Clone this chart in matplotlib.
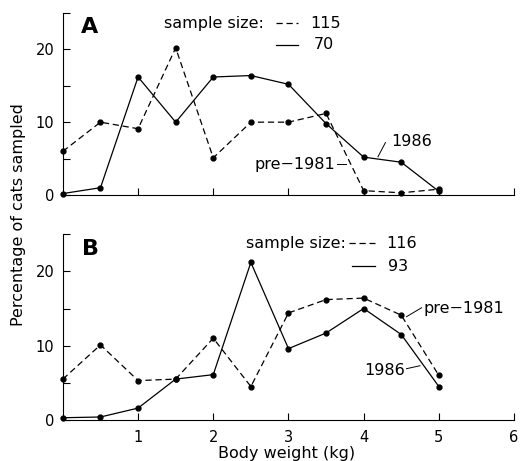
import matplotlib
matplotlib.use("Agg")
import matplotlib.pyplot as plt

plt.rcParams["font.family"] = ["DejaVu Sans"]

weights = [0, 0.5, 1, 1.5, 2, 2.5, 3, 3.5, 4, 4.5, 5]

# panel A
a_pre1981 = [6.0, 10.0, 9.1, 20.2, 5.1, 10.0, 10.0, 11.2, 0.6, 0.3, 0.8]
a_1986 = [0.2, 1.0, 16.2, 10.0, 16.2, 16.4, 15.2, 9.8, 5.2, 4.5, 0.5]
a_sizes = ["115", "70"]

# panel B
b_pre1981 = [5.5, 10.1, 5.3, 5.5, 11.0, 4.5, 14.4, 16.2, 16.4, 14.1, 6.0]
b_1986 = [0.3, 0.4, 1.6, 5.5, 6.1, 21.2, 9.6, 11.7, 15.0, 11.5, 4.5]
b_sizes = ["116", "93"]

x_ticks = [1, 2, 3, 4, 5, 6]

fs = 10.5
fs_label = 11.5

fig = plt.figure(figsize=(5.24, 4.61), dpi=100)
ax_a = fig.add_axes([0.120, 0.577, 0.861, 0.395])
ax_b = fig.add_axes([0.120, 0.089, 0.861, 0.403])

dash = (0, (5, 3))


def style(ax):
    ax.set_xlim(0, 6)
    ax.set_ylim(0, 25)
    ax.spines["top"].set_visible(False)
    ax.spines["right"].set_visible(False)
    ax.set_xticks(x_ticks)
    ax.set_yticks([0, 10, 20])
    ax.set_yticks([5, 15, 25], minor=True)
    ax.tick_params(axis="both", which="both", direction="in", length=5, width=0.8, labelsize=fs)
    ax.tick_params(axis="y", pad=6)
    ax.tick_params(axis="x", pad=7)


for ax, pre, new in [(ax_a, a_pre1981, a_1986), (ax_b, b_pre1981, b_1986)]:
    ax.plot(weights, pre, color="black", linestyle=dash, linewidth=0.9, marker="o", markersize=3.5, clip_on=False)
    ax.plot(weights, new, color="black", linestyle="-", linewidth=0.9, marker="o", markersize=3.5, clip_on=False)
    style(ax)

ax_a.tick_params(axis="x", labelbottom=False)

# panel letters
ax_a.text(0.36, 23.0, "A", fontsize=16, fontweight="bold", va="center", ha="center")
ax_b.text(0.37, 23.0, "B", fontsize=16, fontweight="bold", va="center", ha="center")

# sample size legends
ax_a.text(2.67, 23.6, "sample size:", fontsize=fs_label, ha="right", va="center")
ax_a.plot([2.83, 3.13], [23.6, 23.6], color="black", linestyle=dash, linewidth=0.9)
ax_a.plot([2.83, 3.13], [20.6, 20.6], color="black", linestyle="-", linewidth=0.9)
ax_a.text(3.29, 23.6, a_sizes[0], fontsize=fs_label, ha="left", va="center")
ax_a.text(3.34, 20.6, a_sizes[1], fontsize=fs_label, ha="left", va="center")

ax_b.text(3.77, 23.8, "sample size:", fontsize=fs_label, ha="right", va="center")
ax_b.plot([3.8, 4.15], [23.8, 23.8], color="black", linestyle=dash, linewidth=0.9)
ax_b.plot([3.85, 4.15], [20.7, 20.7], color="black", linestyle="-", linewidth=0.9)
ax_b.text(4.3, 23.8, b_sizes[0], fontsize=fs_label, ha="left", va="center")
ax_b.text(4.32, 20.7, b_sizes[1], fontsize=fs_label, ha="left", va="center")

# series labels
ax_a.text(4.37, 7.3, "1986", fontsize=fs_label, ha="left", va="center")
ax_a.plot([4.29, 4.19], [7.2, 5.25], color="black", linewidth=0.7)
ax_a.text(3.62, 4.25, "pre\u22121981", fontsize=fs_label, ha="right", va="center")
ax_a.plot([3.64, 3.77], [4.25, 4.25], color="black", linewidth=0.7)

ax_b.text(4.79, 15.0, "pre\u22121981", fontsize=fs_label, ha="left", va="center")
ax_b.plot([4.57, 4.77], [13.9, 15.1], color="black", linewidth=0.7)
ax_b.text(4.55, 6.6, "1986", fontsize=fs_label, ha="right", va="center")
ax_b.plot([4.57, 4.75], [6.9, 7.3], color="black", linewidth=0.7)

fig.text(0.036, 0.534, "Percentage of cats sampled", rotation=90, fontsize=fs_label, ha="center", va="center")
fig.text(0.546, 0.016, "Body weight (kg)", fontsize=fs_label, ha="center", va="center")

fig.savefig("out.png", dpi=100)
